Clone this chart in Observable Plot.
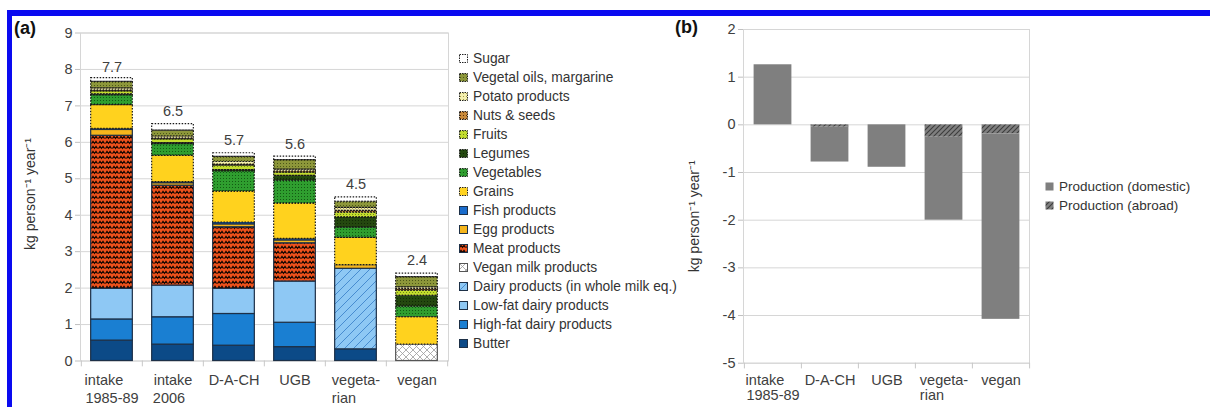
<!DOCTYPE html>
<html>
<head>
<meta charset="utf-8">
<script src="https://cdn.jsdelivr.net/npm/d3@7"></script>
<script src="https://cdn.jsdelivr.net/npm/@observablehq/plot@0.6"></script>
<style>
html,body{margin:0;padding:0;background:#fff;}
#wrap{position:relative;width:1210px;height:407px;overflow:hidden;font-family:"Liberation Sans",Arial,sans-serif;color:#3a3a3a;background:#fff;}
.blueTop{position:absolute;left:7px;top:10px;width:1203px;height:6px;background:#0a0af0;}
.blueLeft{position:absolute;left:7px;top:10px;width:5px;height:397px;background:#0a0af0;}
.plot{position:absolute;top:0;}
.panel{position:absolute;font-weight:bold;font-size:18px;line-height:18px;color:#111;}
.legend{position:absolute;color:#333;}
.legend .row{height:19px;display:flex;align-items:center;white-space:nowrap;}
.legend svg{margin-right:5px;flex:none;}
</style>
</head>
<body>
<svg width="0" height="0" style="position:absolute">
 <defs>
  <pattern id="pMeat" width="7" height="5" patternUnits="userSpaceOnUse">
   <rect width="7" height="5" fill="#f0521c"/>
   <path d="M0.5,3.6 L2,1.3 L3.5,3.6 L5,1.3 L6.5,3.6" fill="none" stroke="#1a0800" stroke-width="1.1"/>
  </pattern>
  <pattern id="pVeg" width="3" height="3" patternUnits="userSpaceOnUse">
   <rect width="3" height="3" fill="#2f9e2f"/>
   <rect x="1" y="1" width="1" height="1" fill="#135a13"/>
  </pattern>
  <pattern id="pLeg" width="3" height="3" patternUnits="userSpaceOnUse">
   <rect width="3" height="3" fill="#24480f"/>
   <rect x="1" y="1" width="1" height="1" fill="#112a06"/>
  </pattern>
  <pattern id="pFruit" width="3" height="3" patternUnits="userSpaceOnUse">
   <rect width="3" height="3" fill="#c3dc2e"/>
   <rect x="1" y="1" width="1" height="1" fill="#6e8c12"/>
  </pattern>
  <pattern id="pNuts" width="3" height="3" patternUnits="userSpaceOnUse">
   <rect width="3" height="3" fill="#c98a3a"/>
   <rect x="1" y="1" width="1" height="1" fill="#5c300c"/>
  </pattern>
  <pattern id="pPotato" width="3" height="3" patternUnits="userSpaceOnUse">
   <rect width="3" height="3" fill="#f4efae"/>
   <rect x="1" y="1" width="1" height="1" fill="#a49a4a"/>
  </pattern>
  <pattern id="pOil" width="3" height="3" patternUnits="userSpaceOnUse">
   <rect width="3" height="3" fill="#8d973a"/>
   <rect x="1" y="1" width="1" height="1" fill="#4c5618"/>
  </pattern>
  <pattern id="pDairyEq" width="9" height="9" patternUnits="userSpaceOnUse">
   <rect width="9" height="9" fill="#8ec8f4"/>
   <path d="M0,9 L9,0 M-2,2 L2,-2 M7,11 L11,7" stroke="#3f86cc" stroke-width="0.9"/>
  </pattern>
  <pattern id="pVeganMilk" width="7" height="7" patternUnits="userSpaceOnUse">
   <rect width="7" height="7" fill="#ffffff"/>
   <path d="M0,0 L7,7 M7,0 L0,7" stroke="#9a9a9a" stroke-width="0.8"/>
  </pattern>
  <pattern id="pAbroad" width="5" height="5" patternUnits="userSpaceOnUse">
   <rect width="5" height="5" fill="#7f7f7f"/>
   <path d="M0,5 L5,0 M-1,1 L1,-1 M4,6 L6,4" stroke="#3c3c3c" stroke-width="1.1"/>
  </pattern>
 </defs>
</svg>
<div id="wrap">
 <div class="blueTop"></div>
 <div class="blueLeft"></div>
 <div class="panel" style="left:14px;top:19px;">(a)</div>
 <div class="panel" style="left:675px;top:18px;">(b)</div>
</div>
<script>
// ---------- Data: panel (a) ----------
const categoriesA = ["intake 1985-89", "intake 2006", "D-A-CH", "UGB", "vegetarian", "vegan"];
const axisLabelsA = ["intake\n1985-89", "intake\n2006", "D-A-CH", "UGB", "vegeta-\nrian", "vegan"];
const foodGroups = ["Butter", "High-fat dairy products", "Low-fat dairy products",
  "Dairy products (in whole milk eq.)", "Vegan milk products", "Meat products", "Egg products",
  "Fish products", "Grains", "Vegetables", "Legumes", "Fruits", "Nuts & seeds",
  "Potato products", "Vegetal oils, margarine", "Sugar"];
const butter           = [0.56, 0.45, 0.42, 0.38, 0.32, 0];
const highFatDairy     = [0.58, 0.75, 0.87, 0.67, 0, 0];
const lowFatDairy      = [0.84, 0.87, 0.69, 1.13, 0, 0];
const dairyWholeMilkEq = [0, 0, 0, 0, 2.21, 0];
const veganMilk        = [0, 0, 0, 0, 0, 0.45];
const meat             = [4.20, 2.74, 1.69, 1.05, 0, 0];
const egg              = [0.16, 0.07, 0.08, 0.08, 0.10, 0];
const fish             = [0.03, 0.03, 0.05, 0.04, 0, 0];
const grains           = [0.65, 0.72, 0.85, 0.97, 0.75, 0.75];
const vegetables       = [0.27, 0.32, 0.55, 0.63, 0.28, 0.29];
const legumes          = [0.03, 0.03, 0.04, 0.13, 0.28, 0.30];
const fruits           = [0.08, 0.10, 0.12, 0.09, 0.13, 0.14];
const nutsSeeds        = [0.02, 0.02, 0.02, 0.03, 0.05, 0.04];
const potato           = [0.06, 0.06, 0.08, 0.05, 0.08, 0.05];
const vegetalOils      = [0.18, 0.16, 0.14, 0.26, 0.17, 0.28];
const sugar            = [0.10, 0.18, 0.10, 0.10, 0.12, 0.10];
const totalsA          = [7.7, 6.5, 5.7, 5.6, 4.5, 2.4];
const yTicksA          = [0, 1, 2, 3, 4, 5, 6, 7, 8, 9];

// ---------- Data: panel (b) ----------
const categoriesB = ["intake 1985-89", "D-A-CH", "UGB", "vegetarian", "vegan"];
const axisLabelsB = ["intake\n1985-89", "D-A-CH", "UGB", "vegeta-\nrian", "vegan"];
const productionSeries = ["Production (domestic)", "Production (abroad)"];
const productionDomestic = [1.26, -0.73, -0.89, -1.74, -3.89];
const productionAbroad   = [0, -0.05, 0, -0.26, -0.19];
const yTicksB = [-5, -4, -3, -2, -1, 0, 1, 2];

const yLabel = "kg person\u207B\u00B9 year\u207B\u00B9";

// ---------- Styles ----------
const styleA = {
  "Butter": {fill: "#0c4a87", plant: false},
  "High-fat dairy products": {fill: "#1a7fd2", plant: false},
  "Low-fat dairy products": {fill: "#8ec8f4", plant: false},
  "Dairy products (in whole milk eq.)": {fill: "url(#pDairyEq)", plant: false},
  "Vegan milk products": {fill: "url(#pVeganMilk)", plant: false, stroke: "#555"},
  "Meat products": {fill: "url(#pMeat)", plant: false},
  "Egg products": {fill: "#f5b51c", plant: false},
  "Fish products": {fill: "#1a6ccc", plant: false},
  "Grains": {fill: "#ffd21e", plant: true},
  "Vegetables": {fill: "url(#pVeg)", plant: true},
  "Legumes": {fill: "url(#pLeg)", plant: true},
  "Fruits": {fill: "url(#pFruit)", plant: true},
  "Nuts & seeds": {fill: "url(#pNuts)", plant: true},
  "Potato products": {fill: "url(#pPotato)", plant: true},
  "Vegetal oils, margarine": {fill: "url(#pOil)", plant: true},
  "Sugar": {fill: "#ffffff", plant: true}
};
const styleB = {
  "Production (domestic)": "#7f7f7f",
  "Production (abroad)": "url(#pAbroad)"
};

// ---------- Tables ----------
const seriesArraysA = [butter, highFatDairy, lowFatDairy, dairyWholeMilkEq, veganMilk, meat, egg, fish,
  grains, vegetables, legumes, fruits, nutsSeeds, potato, vegetalOils, sugar];
const tableA = [];
foodGroups.forEach((g, s) => seriesArraysA[s].forEach((v, j) => {
  if (v > 0) tableA.push({cat: categoriesA[j], group: g, value: v});
}));
const productionValues = [productionDomestic, productionAbroad];
const tableB = [];
[1, 0].forEach(s => productionValues[s].forEach((v, j) => {
  if (v !== 0) tableB.push({cat: categoriesB[j], series: productionSeries[s], value: v});
}));

// left-align multi-line tick labels within a centred block
const xFont = 14.5;
const ctx = document.createElement("canvas").getContext("2d");
ctx.font = `${xFont}px "Liberation Sans"`;
function leftAlign(label) {
  const lines = label.split("\n");
  const w = lines.map(l => ctx.measureText(l).width);
  const maxW = Math.max(...w);
  const nb = ctx.measureText("\u00a0").width || 4;
  return lines.map((l, k) => l + "\u00a0".repeat(Math.max(0, Math.round((maxW - w[k]) / nb)))).join("\n");
}

const fontStyle = {fontFamily: '"Liberation Sans", Arial, sans-serif', fontSize: "14px", color: "#404040", background: "transparent", overflow: "visible"};
const gridColor = "#d6d6d6";

// ---------- Panel (a) ----------
const widthA = 450, heightA = 407;
const mA = {left: 80, right: 2, top: 32.5, bottom: 46.5};
const bwA = (widthA - mA.left - mA.right) / categoriesA.length;
const insA = (bwA - 42) / 2;
const plotA = Plot.plot({
  width: widthA, height: heightA,
  marginLeft: mA.left, marginRight: mA.right, marginTop: mA.top, marginBottom: mA.bottom,
  style: fontStyle,
  x: {type: "band", domain: categoriesA, padding: 0},
  y: {domain: [0, 9]},
  color: {type: "identity"},
  marks: [
    Plot.gridY(yTicksA, {stroke: gridColor, strokeOpacity: 1}),
    Plot.frame({stroke: gridColor}),
    Plot.barY(tableA, Plot.stackY({
      x: "cat", y: "value", z: "group",
      fill: d => styleA[d.group].fill,
      stroke: d => styleA[d.group].plant ? "none" : (styleA[d.group].stroke || "#1d3047"),
      strokeWidth: 1.2, insetLeft: insA, insetRight: insA
    })),
    Plot.barY(tableA, Plot.stackY({
      x: "cat", y: "value", z: "group",
      fill: "none",
      stroke: d => styleA[d.group].plant ? "#1a1a1a" : "none",
      strokeWidth: 1.2, strokeDasharray: "1.5,1.5", insetLeft: insA, insetRight: insA
    })),
    Plot.text(categoriesA, {x: d => d, y: (d, i) => totalsA[i], text: (d, i) => totalsA[i].toFixed(1), dy: -13, fontSize: 14.5, fill: "#404040"}),
    Plot.ruleX(categoriesA, {x: d => d, dx: -bwA / 2, y1: 0, y2: -0.16, stroke: "#c8c8c8"}),
    Plot.ruleX(categoriesA.slice(-1), {x: d => d, dx: bwA / 2, y1: 0, y2: -0.16, stroke: "#c8c8c8"}),
    Plot.axisY({ticks: yTicksA, tickSize: 5, tickPadding: 3, tickFormat: d => String(d), stroke: "#c0c0c0", fill: "#404040", fontSize: 14.5, label: null}),
    Plot.axisX({tickSize: 0, tickPadding: 12, tickFormat: d => leftAlign(axisLabelsA[categoriesA.indexOf(d)]), fontSize: xFont, lineHeight: 1.2, fill: "#404040", label: null}),
    Plot.text([yLabel], {frameAnchor: "left", textAnchor: "middle", dx: -50, dy: -3, rotate: -90, fontSize: 14, fill: "#333"})
  ]
});
plotA.classList.add("plot");
plotA.style.left = "0px";
document.getElementById("wrap").appendChild(plotA);

// ---------- Panel (b) ----------
const widthB = 550, heightB = 407;
const mB = {left: 83, right: 181, top: 29, bottom: 44.3};
const bwB = (widthB - mB.left - mB.right) / categoriesB.length;
const insB = (bwB - 38) / 2;
const plotB = Plot.plot({
  width: widthB, height: heightB,
  marginLeft: mB.left, marginRight: mB.right, marginTop: mB.top, marginBottom: mB.bottom,
  style: fontStyle,
  x: {type: "band", domain: categoriesB, padding: 0},
  y: {domain: [-5, 2]},
  color: {type: "identity"},
  marks: [
    Plot.gridY(yTicksB, {stroke: gridColor, strokeOpacity: 1}),
    Plot.frame({stroke: gridColor}),
    Plot.barY(tableB, Plot.stackY({
      x: "cat", y: "value", z: "series",
      fill: d => styleB[d.series], insetLeft: insB, insetRight: insB
    })),
    Plot.ruleX(categoriesB, {x: d => d, dx: -bwB / 2, y1: -5, y2: -5.12, stroke: "#c8c8c8"}),
    Plot.ruleX(categoriesB.slice(-1), {x: d => d, dx: bwB / 2, y1: -5, y2: -5.12, stroke: "#c8c8c8"}),
    Plot.axisY({ticks: yTicksB, tickSize: 5, tickPadding: 3, tickFormat: d => String(d), stroke: "#c0c0c0", fill: "#404040", fontSize: 14.5, label: null}),
    Plot.axisX({tickSize: 0, tickPadding: 11, tickFormat: d => leftAlign(axisLabelsB[categoriesB.indexOf(d)]), fontSize: xFont, lineHeight: 1.05, fill: "#404040", label: null}),
    Plot.text([yLabel], {frameAnchor: "left", textAnchor: "middle", dx: -49, dy: 20, rotate: -90, fontSize: 14, fill: "#333"})
  ]
});
plotB.classList.add("plot");
plotB.style.left = "660px";
document.getElementById("wrap").appendChild(plotB);

// ---------- Legends ----------
function swatch(fill, stroke, dash) {
  return `<svg width="9" height="9"><rect x="0.5" y="0.5" width="8" height="8" fill="${fill}" stroke="${stroke}" stroke-width="1" ${dash ? 'stroke-dasharray="1.5,1"' : ""}/></svg>`;
}
const legA = document.createElement("div");
legA.className = "legend";
legA.style.left = "459px";
legA.style.top = "48.5px";
legA.style.fontSize = "13.8px";
legA.innerHTML = foodGroups.slice().reverse().map(g => {
  const s = styleA[g];
  return `<div class="row">${swatch(s.fill, s.plant ? "#222" : (s.stroke || "#1d3047"), s.plant)}<span>${g.replace("&", "&amp;")}</span></div>`;
}).join("");
document.getElementById("wrap").appendChild(legA);

const legB = document.createElement("div");
legB.className = "legend";
legB.style.left = "1045px";
legB.style.top = "176.5px";
legB.style.fontSize = "13.5px";
legB.innerHTML = productionSeries.map(s =>
  `<div class="row">${swatch(styleB[s], "none", false)}<span>${s}</span></div>`).join("");
document.getElementById("wrap").appendChild(legB);
</script>
</body>
</html>
